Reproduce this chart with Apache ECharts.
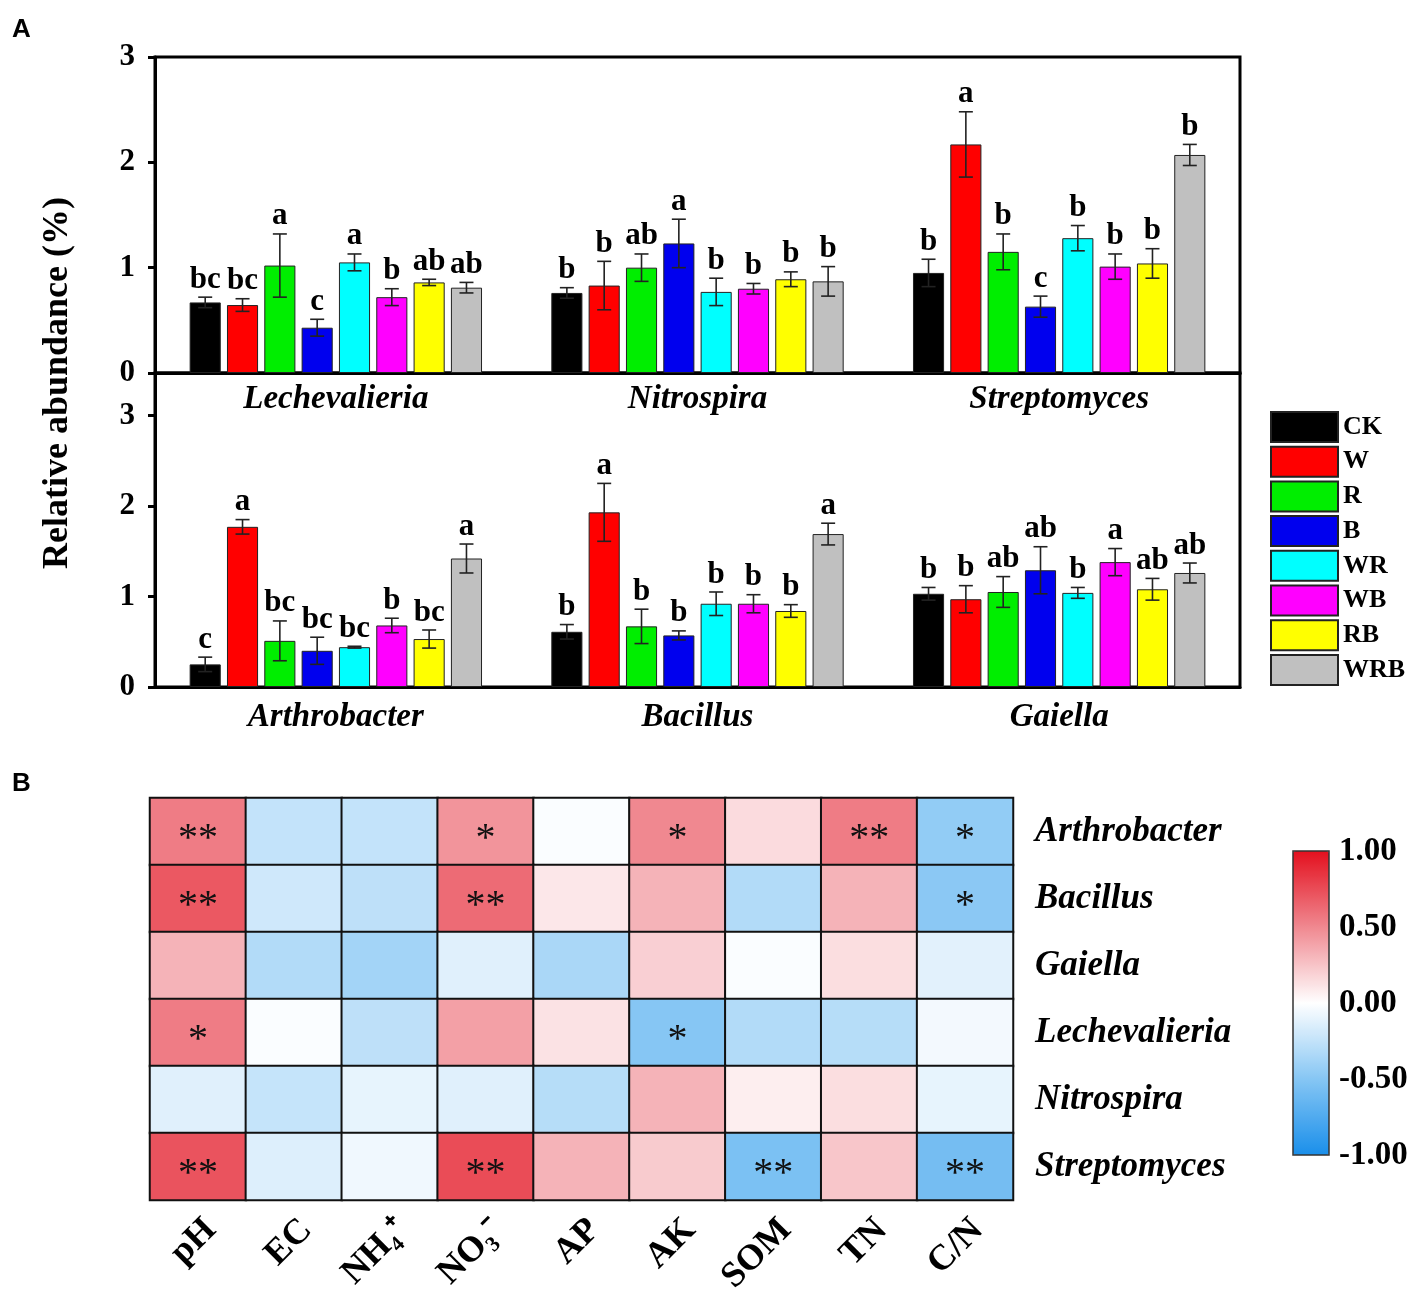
<!DOCTYPE html>
<html>
<head>
<meta charset="utf-8">
<title>Relative abundance and correlation heatmap</title>
<script src="https://cdn.jsdelivr.net/npm/echarts/dist/echarts.min.js"></script>
<style>
  html, body { margin: 0; padding: 0; background: #fff; }
  #main { width: 1421px; height: 1292px; }
</style>
</head>
<body>
<div id="main"></div>
<script>
'use strict';

// treatments and their colours
var treatments = ['CK', 'W', 'R', 'B', 'WR', 'WB', 'RB', 'WRB'];
var treatColors = ['#000000', '#ff0000', '#00ee00', '#0000ee', '#00ffff', '#ff00ff', '#ffff00', '#c0c0c0'];

// panel A, upper layer
var topGenera = ['Lechevalieria', 'Nitrospira', 'Streptomyces'];
var topMeans = [
  [0.67, 0.645, 1.02, 0.43, 1.05, 0.72, 0.86, 0.81],
  [0.76, 0.83, 1.00, 1.23, 0.77, 0.80, 0.89, 0.87],
  [0.95, 2.17, 1.15, 0.63, 1.28, 1.01, 1.04, 2.07]
];
var topErr = [
  [0.05, 0.06, 0.30, 0.08, 0.08, 0.08, 0.03, 0.05],
  [0.05, 0.23, 0.13, 0.23, 0.13, 0.05, 0.07, 0.14],
  [0.13, 0.31, 0.17, 0.10, 0.12, 0.12, 0.14, 0.10]
];
var topLetters = [
  ['bc', 'bc', 'a', 'c', 'a', 'b', 'ab', 'ab'],
  ['b', 'b', 'ab', 'a', 'b', 'b', 'b', 'b'],
  ['b', 'a', 'b', 'c', 'b', 'b', 'b', 'b']
];

// panel A, lower layer
var bottomGenera = ['Arthrobacter', 'Bacillus', 'Gaiella'];
var bottomMeans = [
  [0.25, 1.77, 0.51, 0.40, 0.44, 0.68, 0.53, 1.42],
  [0.61, 1.93, 0.67, 0.57, 0.92, 0.92, 0.84, 1.69],
  [1.03, 0.97, 1.05, 1.29, 1.04, 1.38, 1.08, 1.26]
];
var bottomErr = [
  [0.08, 0.08, 0.22, 0.15, 0.01, 0.08, 0.10, 0.16],
  [0.08, 0.32, 0.19, 0.05, 0.13, 0.10, 0.07, 0.12],
  [0.07, 0.15, 0.17, 0.26, 0.06, 0.15, 0.12, 0.11]
];
var bottomLetters = [
  ['c', 'a', 'bc', 'bc', 'bc', 'b', 'bc', 'a'],
  ['b', 'a', 'b', 'b', 'b', 'b', 'b', 'a'],
  ['b', 'b', 'ab', 'ab', 'b', 'a', 'ab', 'ab']
];

// panel B, correlation heatmap
var soilProps = ['pH', 'EC', 'NH\u2084\u207A', 'NO\u2083\u207B', 'AP', 'AK', 'SOM', 'TN', 'C/N'];
var heatGenera = ['Arthrobacter', 'Bacillus', 'Gaiella', 'Lechevalieria', 'Nitrospira', 'Streptomyces'];
var corrValues = [
  [0.55, -0.25, -0.25, 0.45, -0.02, 0.50, 0.15, 0.55, -0.45],
  [0.70, -0.20, -0.27, 0.62, 0.10, 0.32, -0.32, 0.32, -0.48],
  [0.32, -0.32, -0.38, -0.13, -0.35, 0.20, -0.02, 0.14, -0.12],
  [0.55, -0.02, -0.27, 0.40, 0.12, -0.50, -0.32, -0.30, -0.05],
  [-0.13, -0.24, -0.10, -0.13, -0.30, 0.32, 0.07, 0.14, -0.10],
  [0.72, -0.14, -0.06, 0.75, 0.32, 0.22, -0.55, 0.24, -0.58]
];
var corrSig = [
  ['**', '', '', '*', '', '*', '', '**', '*'],
  ['**', '', '', '**', '', '', '', '', '*'],
  ['', '', '', '', '', '', '', '', ''],
  ['*', '', '', '', '', '*', '', '', ''],
  ['', '', '', '', '', '', '', '', ''],
  ['**', '', '', '**', '', '', '**', '', '**']
];

var SERIF = "'Times New Roman', 'Liberation Serif', serif";
var BAR_FRAC = 0.086; // bar width as part of a category band

function yAxisOpt(gridIndex, max) {
  return {
    type: 'value', gridIndex: gridIndex, min: 0, max: max, interval: 1,
    splitLine: { show: false },
    axisLine: { show: true, lineStyle: { color: '#000', width: 3 } },
    axisTick: { show: true, length: 7, lineStyle: { color: '#000', width: 3 } },
    axisLabel: {
      color: '#000', fontFamily: SERIF, fontWeight: 'bold', fontSize: 31, margin: 20,
      formatter: function (v) { return Number.isInteger(v) ? String(v) : ''; }
    }
  };
}

function xAxisOpt(gridIndex, cats, margin) {
  return {
    type: 'category', gridIndex: gridIndex, data: cats,
    axisLine: { lineStyle: { color: '#000', width: 3 } },
    axisTick: { length: 7, lineStyle: { color: '#000', width: 3 } },
    axisLabel: {
      color: '#000', fontFamily: SERIF, fontWeight: 'bold', fontStyle: 'italic',
      fontSize: 33, margin: margin
    }
  };
}

function barSeries(gridIndex, means) {
  return treatments.map(function (name, t) {
    return {
      name: name, type: 'bar', xAxisIndex: gridIndex, yAxisIndex: gridIndex,
      barWidth: (BAR_FRAC * 100) + '%', barGap: '20%',
      itemStyle: { color: treatColors[t], borderColor: '#222', borderWidth: 1 },
      emphasis: { disabled: true },
      data: means.map(function (row) { return row[t]; })
    };
  });
}

// error bars and letters, placed on the same band offsets as the bars
function errorSeries(gridIndex, means, errs, letters) {
  var data = [];
  var labels = [];
  means.forEach(function (row, g) {
    row.forEach(function (m, t) {
      data.push([g, m, errs[g][t], t]);
      labels.push(letters[g][t]);
    });
  });
  return {
    type: 'custom', xAxisIndex: gridIndex, yAxisIndex: gridIndex, z: 5,
    silent: true, clip: false,
    renderItem: function (params, api) {
      var g = api.value(0), m = api.value(1), e = api.value(2), t = api.value(3);
      var band = api.size([1, 0])[0];
      var w = band * BAR_FRAC;
      var cx = api.coord([g, m])[0] + (t - 3.5) * w * 1.2;
      var hi = api.coord([g, m + e])[1];
      var lo = api.coord([g, m - e])[1];
      var cap = 7;
      var ls = { stroke: '#222', lineWidth: 1.6 };
      return {
        type: 'group',
        children: [
          { type: 'line', shape: { x1: cx, y1: hi, x2: cx, y2: lo }, style: ls },
          { type: 'line', shape: { x1: cx - cap, y1: hi, x2: cx + cap, y2: hi }, style: ls },
          { type: 'line', shape: { x1: cx - cap, y1: lo, x2: cx + cap, y2: lo }, style: ls },
          {
            type: 'text', x: cx, y: hi - 2,
            style: {
              text: labels[params.dataIndex], fill: '#000', align: 'center', verticalAlign: 'bottom',
              font: 'bold 31px ' + SERIF
            }
          }
        ]
      };
    },
    data: data
  };
}

var heatData = [];
corrValues.forEach(function (row, r) {
  row.forEach(function (v, c) {
    heatData.push([c, r, v, corrSig[r][c]]);
  });
});

var chart = echarts.init(document.getElementById('main'));

var option = {
  backgroundColor: '#fff',
  animation: false,
  grid: [
    { left: 155, right: 181, top: 57, bottom: 919, show: true, borderColor: '#000', borderWidth: 3, outerBoundsMode: 'none' },
    { left: 155, right: 181, top: 373, bottom: 605, show: true, borderColor: '#000', borderWidth: 3, outerBoundsMode: 'none' },
    { left: 150, right: 408, top: 798, bottom: 92, outerBoundsMode: 'none' },
    { left: 1293, top: 851, width: 36, height: 304, show: true, borderColor: '#333', borderWidth: 1.5, backgroundColor: 'transparent', z: 10, outerBoundsMode: 'none' }
  ],
  xAxis: [
    xAxisOpt(0, topGenera, 10),
    xAxisOpt(1, bottomGenera, 14),
    {
      type: 'category', gridIndex: 2, data: soilProps,
      axisLine: { show: false }, axisTick: { show: false },
      axisLabel: {
        color: '#000', fontFamily: SERIF, fontWeight: 'bold', fontSize: 36,
        rotate: 45, margin: 12, verticalAlign: 'top'
      }
    },
    { type: 'value', gridIndex: 3, show: false, min: 0, max: 1 }
  ],
  yAxis: [
    yAxisOpt(0, 3),
    yAxisOpt(1, 3.47),
    {
      type: 'category', gridIndex: 2, data: heatGenera, inverse: true, position: 'right',
      axisLine: { show: false }, axisTick: { show: false },
      axisLabel: {
        color: '#000', fontFamily: SERIF, fontWeight: 'bold', fontStyle: 'italic',
        fontSize: 35, margin: 22, align: 'left'
      }
    },
    {
      type: 'value', gridIndex: 3, position: 'right', min: -1, max: 1, interval: 0.5,
      splitLine: { show: false }, axisLine: { show: false }, axisTick: { show: false },
      axisLabel: {
        color: '#000', fontFamily: SERIF, fontWeight: 'bold', fontSize: 33, margin: 10,
        formatter: function (v) { return v.toFixed(2); }
      }
    }
  ],
  legend: {
    data: treatments, orient: 'vertical', left: 1270, top: 411,
    itemWidth: 67, itemHeight: 30, itemGap: 2.7, icon: 'rect', padding: 0,
    selectedMode: false,
    textStyle: { color: '#000', fontFamily: SERIF, fontWeight: 'bold', fontSize: 26, lineHeight: 30 }
  },
  visualMap: {
    type: 'continuous', min: -1, max: 1, seriesIndex: 18, dimension: 2,
    left: 1293, top: 851, itemWidth: 36, itemHeight: 304, padding: 0,
    calculable: false, showLabel: false, text: null,
    inRange: { color: ['#1a8fea', '#86c6f4', '#ffffff', '#f08890', '#e3101e'] }
  },
  graphic: [
    { type: 'text', left: 12, top: 17, style: { text: 'A', fill: '#000', font: 'bold 26px Arial, Liberation Sans, sans-serif' } },
    { type: 'text', left: 12, top: 771, style: { text: 'B', fill: '#000', font: 'bold 26px Arial, Liberation Sans, sans-serif' } },
    {
      type: 'text', x: 58, y: 383, rotation: Math.PI / 2,
      style: {
        text: 'Relative abundance (%)', fill: '#000', align: 'center', verticalAlign: 'middle',
        font: 'bold 36px ' + SERIF
      }
    }
  ],
  series: [].concat(
    barSeries(0, topMeans),
    barSeries(1, bottomMeans),
    [errorSeries(0, topMeans, topErr, topLetters)],
    [errorSeries(1, bottomMeans, bottomErr, bottomLetters)],
    [{
      type: 'heatmap', xAxisIndex: 2, yAxisIndex: 2,
      data: heatData,
      itemStyle: { borderColor: '#111', borderWidth: 2 },
      emphasis: { disabled: true },
      label: {
        show: true, color: '#111', fontFamily: SERIF, fontSize: 40, offset: [0, 8],
        formatter: function (p) { return p.data[3]; }
      }
    }]
  )
};

chart.setOption(option);
</script>
</body>
</html>
